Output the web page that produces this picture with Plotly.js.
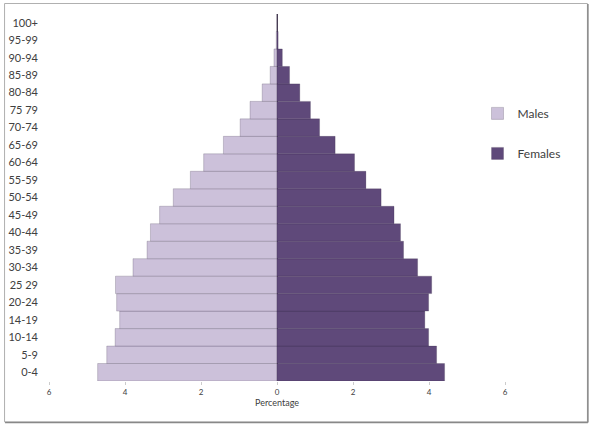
<!DOCTYPE html>
<html>
<head>
<meta charset="utf-8">
<script src="https://cdn.plot.ly/plotly-3.0.1.min.js"></script>
<style>html,body{margin:0;padding:0;background:#fff;}#chart{width:600px;height:432px;}</style>
</head>
<body>
<div id="chart"></div>
<script>
const ageGroups = ["0-4","5-9","10-14","14-19","20-24","25 29","30-34","35-39","40-44","45-49","50-54","55-59","60-64","65-69","70-74","75 79","80-84","85-89","90-94","95-99","100+"];
const malesPct = [4.72,4.48,4.26,4.14,4.22,4.25,3.79,3.42,3.33,3.09,2.73,2.28,1.93,1.41,0.97,0.71,0.39,0.18,0.08,0.02,0.005];
const femalesPct = [4.41,4.20,3.99,3.89,3.99,4.07,3.70,3.33,3.25,3.08,2.74,2.34,2.04,1.53,1.12,0.88,0.60,0.33,0.14,0.03,0.01];
const tickValues = [-6,-4,-2,0,2,4,6];
const tickLabels = ["6","4","2","0","2","4","6"];

const lineStyle = {color: "rgba(40,28,55,0.4)", width: 0.5};
const traces = [
  {type: "bar", orientation: "h", name: "Males", y: ageGroups, x: malesPct.map(v => -v),
   marker: {color: "#ccc1da", line: lineStyle}, legendgroup: "m", hoverinfo: "skip"},
  {type: "bar", orientation: "h", name: "Females", y: ageGroups, x: femalesPct,
   marker: {color: "#5f497a", line: lineStyle}, legendgroup: "f", hoverinfo: "skip"}
];

const L = 49, R = 505.5;
const px = v => (v - L) / (R - L);
const T = 14, B = 381.5;
const py = v => (B - v) / (B - T);

const layout = {
  width: 600, height: 432,
  margin: {l: L, r: 600 - R, t: T, b: 432 - B},
  paper_bgcolor: "#ffffff", plot_bgcolor: "#ffffff",
  font: {family: "Lato, 'Open Sans', sans-serif", color: "#404040"},
  barmode: "overlay", bargap: 0,
  showlegend: true,
  legend: {x: px(478), xanchor: "left", y: py(99), yanchor: "top",
           font: {size: 12, color: "#404040"}, tracegroupgap: 21, traceorder: "grouped",
           bgcolor: "rgba(0,0,0,0)"},
  xaxis: {range: [-6, 6], tickvals: tickValues, ticktext: tickLabels,
          showgrid: false, zeroline: true, zerolinecolor: "#555555", zerolinewidth: 1,
          showline: false, ticks: "outside", ticklen: 3, tickcolor: "#cccccc",
          tickfont: {size: 8, color: "#404040"},
          title: {text: "Percentage", font: {size: 9, color: "#404040"}, standoff: 4}},
  yaxis: {type: "category", range: [-0.5, 20.5], showgrid: false, zeroline: false,
          showline: false, ticks: "", ticklabelstandoff: 10,
          tickfont: {size: 11, color: "#404040"}},
  shapes: [
    {type: "rect", xref: "paper", yref: "paper",
     x0: px(4.5), x1: px(588), y0: py(422.5), y1: py(3.5),
     line: {color: "#b0b0b0", width: 1}, fillcolor: "rgba(0,0,0,0)"},
    {type: "line", xref: "paper", yref: "paper",
     x0: px(5), x1: px(588.5), y0: py(423), y1: py(423),
     line: {color: "#888888", width: 1.5}},
    {type: "line", xref: "paper", yref: "paper",
     x0: px(588.5), x1: px(588.5), y0: py(423), y1: py(4),
     line: {color: "#888888", width: 1.5}}
  ]
};

Plotly.newPlot("chart", traces, layout, {displayModeBar: false, staticPlot: true});
</script>
</body>
</html>
